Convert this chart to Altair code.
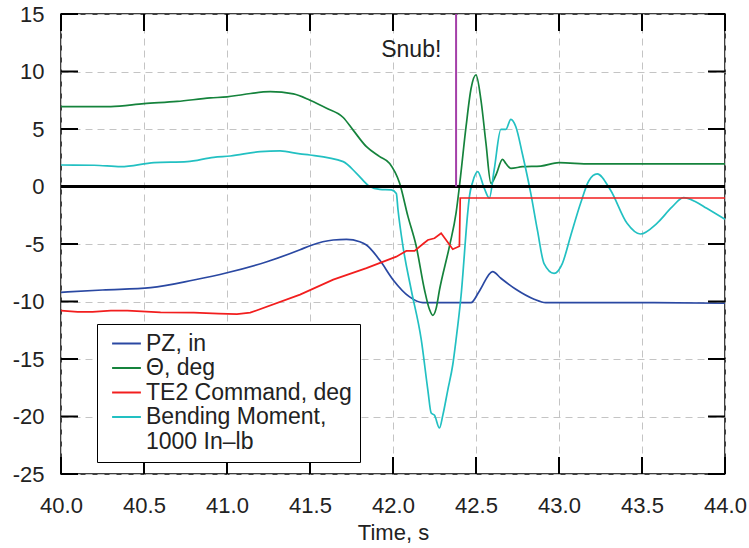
import altair as alt
import pandas as pd

# ---- series (time in s, value in the series' own units) ----
pz_t = [40.0, 40.25, 40.54, 40.8, 41.0, 41.24, 41.44, 41.5, 41.64, 41.72, 41.8, 41.84,
        41.92, 42.0, 42.1, 42.18, 42.47, 42.52, 42.6, 42.65, 42.74, 42.85, 42.92, 43.5, 44.0]
pz_v = [-9.2, -9.0, -8.8, -8.13, -7.5, -6.54, -5.5, -5.15, -4.65, -4.6, -4.8, -5.09,
        -6.4, -8.1, -9.6, -10.1, -10.1, -9.1, -7.4, -7.98, -8.94, -9.8, -10.1, -10.1, -10.15]

theta_t = [40.0, 40.3, 40.5, 40.7, 40.9, 41.0, 41.1, 41.26, 41.4, 41.5, 41.6, 41.7, 41.76,
           41.84, 41.92, 41.98, 42.04, 42.09, 42.14, 42.19, 42.22, 42.24, 42.26, 42.28,
           42.34, 42.38, 42.4, 42.44, 42.47, 42.5, 42.53, 42.56, 42.59, 42.62, 42.66,
           42.68, 42.71, 42.78, 42.89, 43.0, 43.19, 43.5, 44.0]
theta_v = [6.95, 6.95, 7.2, 7.4, 7.7, 7.8, 8.0, 8.25, 8.05, 7.5, 6.8, 6.0, 4.9,
           3.46, 2.6, 2.0, 0.28, -2.6, -5.2, -9.0, -10.7, -11.2, -10.6, -9.0,
           -5.2, -2.3, 0.0, 5.2, 8.5, 9.7, 7.5, 3.76, 0.28, 1.0, 2.36,
           2.0, 1.58, 1.72, 1.78, 2.07, 1.96, 1.96, 1.96]

te2_t = [40.0, 40.1, 40.19, 40.3, 40.4, 40.6, 40.8, 40.95, 41.06, 41.14, 41.44, 41.64,
         41.84, 42.02, 42.08, 42.13, 42.18, 42.21, 42.25, 42.29, 42.32, 42.36, 42.4,
         42.405, 44.0]
te2_v = [-10.8, -10.9, -10.9, -10.8, -10.8, -10.94, -10.97, -11.05, -11.1, -10.97, -9.4, -8.1,
         -7.1, -6.1, -5.6, -5.6, -5.0, -4.65, -4.5, -4.07, -4.65, -5.46, -5.2,
         -1.0, -1.0]

bm_t = [40.0, 40.2, 40.36, 40.56, 40.76, 40.92, 41.02, 41.2, 41.32, 41.44, 41.5, 41.7,
        41.78, 41.86, 41.92, 41.99, 42.02, 42.03, 42.06, 42.11, 42.17, 42.21, 42.23,
        42.25, 42.28, 42.3, 42.33, 42.36, 42.38, 42.41, 42.45, 42.46, 42.48, 42.51,
        42.55, 42.58, 42.61, 42.65, 42.68, 42.71, 42.74, 42.78, 42.83, 42.87, 42.91,
        42.97, 43.02, 43.07, 43.13, 43.18, 43.23, 43.31, 43.41, 43.49, 43.59, 43.68,
        43.75, 43.82, 43.89, 44.0]
bm_v = [1.87, 1.85, 1.72, 2.07, 2.16, 2.54, 2.65, 3.03, 3.09, 2.83, 2.74, 2.16,
        1.15, 0.0, -0.25, -0.3, -0.6, -2.0, -5.2, -9.0, -13.3, -17.7, -19.7,
        -19.9, -21.0, -19.9, -17.7, -15.5, -13.3, -9.5, -2.3, -0.9, 0.4, 1.29,
        -0.16, -1.0, 1.5, 4.97, 4.97, 5.84, 5.2, 2.8, -0.6, -3.8, -6.7,
        -7.55, -6.7, -4.3, -1.46, 0.5, 1.09, -0.3, -3.2, -4.13, -3.2, -1.8,
        -0.97, -1.3, -1.9, -2.85]

series_names = ["PZ, in", "\u0398, deg", "TE2 Command, deg", "Bending Moment,"]
legend_extra = "1000 In\u2013lb"   # second line of the bending-moment entry
series_colors = ["#2a48a2", "#15833c", "#f21e1e", "#22c0c2"]

x_ticks = [40.0, 40.5, 41.0, 41.5, 42.0, 42.5, 43.0, 43.5, 44.0]
y_ticks = [-25, -20, -15, -10, -5, 0, 5, 10, 15]

snub_t = 42.38          # time of the snub event
snub_label = "Snub!"
snub_label_pos = (42.11, 11.3)

# ---- tables ----
smooth = pd.concat([
    pd.DataFrame({"t": pz_t, "v": pz_v, "series": series_names[0]}),
    pd.DataFrame({"t": theta_t, "v": theta_v, "series": series_names[1]}),
    pd.DataFrame({"t": bm_t, "v": bm_v, "series": series_names[3]}),
], ignore_index=True)
command = pd.DataFrame({"t": te2_t, "v": te2_v, "series": series_names[2]})
xtick_df = pd.DataFrame({"t": x_ticks})
ytick_df = pd.DataFrame({"v": y_ticks})

W, H = 664, 460
TICK = 17
FONT = "Liberation Sans"
TEXT = "#222222"
GRID = "#c4c4c4"

x_scale = alt.Scale(domain=[40, 44], nice=False, zero=False)
y_scale = alt.Scale(domain=[-25, 15], nice=False, zero=False)

x_axis = alt.Axis(values=x_ticks, format=".1f", title="Time, s", grid=True,
                  gridDash=[7, 5], gridColor=GRID, gridWidth=1,
                  domain=False, ticks=False, tickSize=0, labelPadding=21,
                  labelFlush=False, labelFontSize=22, labelColor=TEXT,
                  titleFontSize=22, titleFontWeight="normal", titleColor=TEXT,
                  titlePadding=6)
y_axis = alt.Axis(values=y_ticks, labelExpr="'' + datum.value", title=None, grid=True,
                  gridDash=[7, 5], gridColor=GRID, gridWidth=1,
                  domain=False, ticks=False, tickSize=0, labelPadding=17,
                  labelFlush=False, labelFontSize=22, labelColor=TEXT)

x_enc = alt.X("t:Q", scale=x_scale, axis=x_axis)
y_enc = alt.Y("v:Q", scale=y_scale, axis=y_axis)

# legend swatch: a horizontal stroke longer than the symbol box
swatch = "M-1.8,0H1.8"
color = alt.Color(
    "series:N",
    scale=alt.Scale(domain=series_names + [legend_extra],
                    range=series_colors + ["transparent"]),
    legend=alt.Legend(orient="none", legendX=36, legendY=310, title=None,
                      symbolType=swatch, symbolSize=256, symbolStrokeWidth=2,
                      symbolOffset=10, labelFontSize=23, labelFont=FONT,
                      labelColor=TEXT, labelOffset=8, padding=8, rowPadding=0.5,
                      strokeColor="black", fillColor="white", labelLimit=400),
)

lines = alt.Chart(smooth).mark_line(strokeWidth=1.7, interpolate="monotone").encode(
    x=x_enc, y=y_enc, color=color, detail="series:N")
cmd_line = alt.Chart(command).mark_line(strokeWidth=1.7).encode(
    x=x_enc, y=y_enc, color=color)

zero_line = alt.Chart().mark_rule(color="black", strokeWidth=3).encode(
    y=alt.datum(0, scale=y_scale))
snub_line = alt.Chart().mark_rule(color="#a43fa8", strokeWidth=2).encode(
    x=alt.datum(snub_t, scale=x_scale), y=alt.datum(0, scale=y_scale), y2=alt.datum(15))
snub_text = alt.Chart().mark_text(text=snub_label, fontSize=23, font=FONT, color=TEXT,
                                  align="center", baseline="alphabetic").encode(
    x=alt.datum(snub_label_pos[0], scale=x_scale),
    y=alt.datum(snub_label_pos[1], scale=y_scale))

# inward-pointing ticks on all four sides
tick_style = dict(color="black", strokeWidth=2)
bottom_ticks = alt.Chart(xtick_df).mark_rule(**tick_style).encode(
    x=alt.X("t:Q", scale=x_scale), y=alt.value(H), y2=alt.value(H - TICK))
top_ticks = alt.Chart(xtick_df).mark_rule(**tick_style).encode(
    x=alt.X("t:Q", scale=x_scale), y=alt.value(0), y2=alt.value(TICK))
left_ticks = alt.Chart(ytick_df).mark_rule(**tick_style).encode(
    y=alt.Y("v:Q", scale=y_scale), x=alt.value(0), x2=alt.value(TICK))
right_ticks = alt.Chart(ytick_df).mark_rule(**tick_style).encode(
    y=alt.Y("v:Q", scale=y_scale), x=alt.value(W - TICK), x2=alt.value(W))

chart = alt.layer(
    lines, cmd_line, zero_line, snub_line, snub_text,
    bottom_ticks, top_ticks, left_ticks, right_ticks,
).properties(
    width=W, height=H,
    padding={"left": 61, "top": 14, "right": 24, "bottom": 74},
    autosize=alt.AutoSizeParams(type="none"),
    background="white",
).configure(font=FONT).configure_view(stroke="black", strokeWidth=1.5)

chart.save("out.html", embed_options={"renderer": "svg", "actions": False})
